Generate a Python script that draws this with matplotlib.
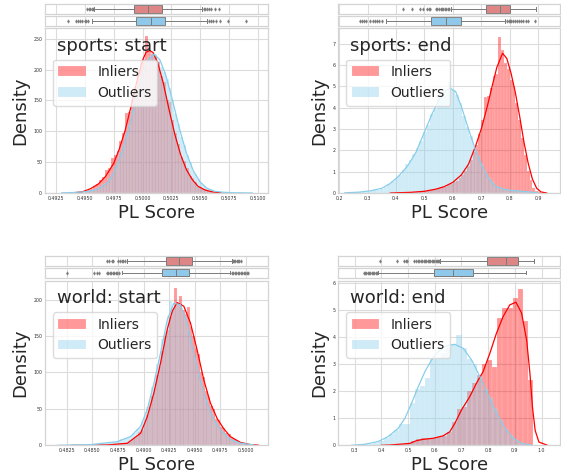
import matplotlib.pyplot as plt
import numpy as np

plt.rcParams['font.family'] = 'DejaVu Sans'

# ---------------- sports: start ----------------
ss_in_bin0, ss_in_binw = 0.4950, 0.00025
ss_in_hist = [3, 5, 7, 12, 14, 21, 26, 38, 40, 56, 62, 68, 85, 98, 130, 132, 150, 172, 200, 212,
              218, 254, 232, 226, 222, 212, 190, 180, 150, 148, 118, 98, 80, 58, 52, 41, 28, 24,
              18, 10, 8, 7, 4, 3, 1]
ss_out_bin0, ss_out_binw = 0.4945, 0.00025
ss_out_hist = [1, 2, 2, 3, 4, 5, 8, 9, 14, 17, 24, 32, 44, 50, 66, 78, 98, 110, 135, 148, 165,
               188, 200, 212, 220, 228, 226, 214, 205, 196, 184, 170, 150, 128, 112, 90, 78, 62,
               50, 36, 30, 22, 16, 11, 8, 5, 4, 3, 2, 1, 1, 1, 0.5, 0.5]
ss_in_kde_x = [0.4940, 0.4948, 0.4955, 0.4962, 0.4968, 0.4975, 0.4980, 0.4985, 0.4990, 0.4995,
               0.5000, 0.5003, 0.5006, 0.5009, 0.5013, 0.5018, 0.5023, 0.5028, 0.5033, 0.5038,
               0.5043, 0.5048, 0.5054, 0.5060, 0.5068]
ss_in_kde_y = [0.3, 2, 7, 15, 27, 48, 72, 102, 140, 180, 215, 228, 231, 228, 212, 178, 135, 95,
               62, 38, 22, 11, 5, 2, 0.3]
ss_out_kde_x = [0.4930, 0.4940, 0.4950, 0.4957, 0.4964, 0.4970, 0.4976, 0.4982, 0.4988, 0.4994,
                0.5000, 0.5005, 0.5010, 0.5015, 0.5020, 0.5026, 0.5032, 0.5038, 0.5044, 0.5050,
                0.5056, 0.5062, 0.5070, 0.5080, 0.5095]
ss_out_kde_y = [0.3, 0.8, 2, 4, 9, 17.5, 36, 65, 104, 150, 192, 216, 225, 216, 192, 150, 104, 65,
                36, 17.5, 7.6, 3, 1.2, 0.4, 0.1]
# whislo, q1, median, q3, whishi
ss_in_box = [0.49582, 0.49928, 0.50050, 0.50171, 0.50512]
ss_in_fliers = [0.49519, 0.49532, 0.49545, 0.49558, 0.49571, 0.50532, 0.50545, 0.50558, 0.50576,
                0.50593, 0.50628, 0.50662]
ss_out_box = [0.49559, 0.49940, 0.50073, 0.50194, 0.50561]
ss_out_fliers = [0.49357, 0.49423, 0.49441, 0.49458, 0.49473, 0.49501, 0.49510, 0.49525, 0.50578,
                 0.50593, 0.50610, 0.50636, 0.50671, 0.50743, 0.50896]

# ---------------- sports: end ----------------
se_in_bin0, se_in_binw = 0.40, 0.01
se_in_hist = [0.03, 0.03, 0.04, 0.05, 0.04, 0.05, 0.06, 0.07, 0.08, 0.08, 0.10, 0.12, 0.14, 0.16,
              0.20, 0.22, 0.27, 0.30, 0.36, 0.42, 0.50, 0.58, 0.70, 0.85, 1.05, 1.25, 1.55, 1.90,
              2.25, 2.75, 3.40, 4.50, 4.55, 4.90, 5.50, 5.60, 7.30, 6.70, 6.10, 5.80, 5.30, 5.00,
              4.20, 3.40, 2.60, 1.80, 1.05, 0.60, 0.25, 0.08, 0.03]
se_out_bin0, se_out_binw = 0.22, 0.0125
se_out_hist = [0.01, 0.02, 0.02, 0.03, 0.04, 0.05, 0.07, 0.10, 0.12, 0.16, 0.20, 0.27, 0.40, 0.55,
               0.68, 0.85, 1.10, 1.35, 1.55, 1.85, 2.10, 2.45, 2.85, 3.20, 3.70, 3.95, 4.45, 4.60,
               4.80, 5.25, 4.85, 4.60, 4.20, 3.60, 3.10, 2.65, 2.20, 1.75, 1.35, 1.00, 0.72, 0.50,
               0.33, 0.22, 0.18, 0.14, 0.13, 0.12, 0.10, 0.08, 0.06, 0.04, 0.02]
se_in_kde_x = [0.38, 0.45, 0.50, 0.54, 0.57, 0.60, 0.63, 0.655, 0.68, 0.70, 0.72, 0.74, 0.755,
               0.775, 0.79, 0.805, 0.82, 0.835, 0.85, 0.865, 0.88, 0.895, 0.91, 0.93]
se_in_kde_y = [0.0, 0.03, 0.08, 0.18, 0.3, 0.5, 0.85, 1.35, 2.2, 3.0, 4.0, 5.1, 5.9, 6.55, 6.3,
               5.6, 4.7, 3.6, 2.4, 1.4, 0.65, 0.22, 0.05, 0.0]
se_out_kde_x = [0.22, 0.27, 0.31, 0.35, 0.38, 0.41, 0.44, 0.47, 0.50, 0.525, 0.55, 0.57, 0.59,
                0.61, 0.63, 0.655, 0.68, 0.70, 0.725, 0.75, 0.78, 0.81, 0.85, 0.90]
se_out_kde_y = [0.01, 0.04, 0.1, 0.22, 0.45, 0.8, 1.25, 1.9, 2.85, 3.65, 4.35, 4.75, 4.92, 4.75,
                4.05, 3.0, 2.0, 1.35, 0.7, 0.32, 0.17, 0.12, 0.07, 0.01]
se_in_box = [0.5926, 0.7171, 0.7675, 0.8024, 0.8933]
se_in_fliers = [0.426, 0.456, 0.486, 0.494, 0.510, 0.515, 0.521, 0.540, 0.546, 0.552, 0.557, 0.562,
                0.567, 0.572, 0.577, 0.582, 0.586]
se_out_box = [0.3653, 0.5227, 0.5774, 0.6276, 0.785]
se_out_fliers = [0.275, 0.282, 0.289, 0.296, 0.310, 0.318, 0.325, 0.333, 0.340, 0.350, 0.790, 0.796,
                 0.800, 0.806, 0.812, 0.818, 0.825, 0.832, 0.840, 0.848, 0.856, 0.866, 0.890]

# ---------------- world: start ----------------
ws_in_bin0, ws_in_binw = 0.4860, 0.00025
ws_in_hist = [0.4, 0.6, 0.8, 1, 1.5, 1.5, 2, 2.5, 3, 3.5, 5, 7, 10, 13, 18, 21, 30, 41, 52, 68, 78,
              97, 108, 130, 150, 158, 176, 186, 216, 195, 205, 186, 180, 190, 162, 150, 134, 125,
              100, 94, 74, 66, 54, 50, 36, 35, 25, 24, 17, 15, 10, 8, 6, 5, 3, 2.5, 1.5, 1]
ws_out_bin0, ws_out_binw = 0.4835, 0.00025
ws_out_hist = [0.6, 0.5, 0.8, 1, 0.8, 1, 1.5, 1.5, 2, 2.5, 3, 3, 4, 4, 5, 5, 6, 8, 9, 10, 12, 14, 17,
               23, 24, 33, 40, 52, 62, 80, 92, 112, 122, 146, 156, 178, 198, 190, 196, 192, 194,
               180, 176, 158, 146, 126, 116, 98, 88, 72, 62, 50, 44, 34, 30, 23, 20, 16, 14, 10, 7,
               6, 5, 3.5, 2.5, 2.5, 2, 1.5, 1, 0.5]
ws_in_kde_x = [0.4830, 0.4855, 0.48646, 0.48841, 0.48971, 0.49036, 0.49101, 0.49166, 0.49231,
               0.4928, 0.49328, 0.49393, 0.49458, 0.49523, 0.49588, 0.49653, 0.49718, 0.49782,
               0.49847, 0.49945, 0.50042, 0.5012]
ws_in_kde_y = [0.0, 0.2, 0.5, 2.8, 16.5, 39, 72, 113, 159, 184, 196, 191, 168, 131, 90, 58, 37, 23,
               12, 4, 1, 0.2]
ws_out_kde_x = [0.48159, 0.48484, 0.48744, 0.48873, 0.48971, 0.49036, 0.49101, 0.49166, 0.49231,
                0.49295, 0.4936, 0.49425, 0.4949, 0.49555, 0.4962, 0.49685, 0.49766, 0.49847,
                0.49945, 0.50075]
ws_out_kde_y = [0, 1, 5, 12, 26, 49, 85, 127, 172, 195, 193, 168, 127, 90, 58, 35, 19, 8, 3, 0.5]
ws_in_box = [0.48836, 0.49216, 0.49346, 0.49476, 0.49866]
ws_in_fliers = [0.4864, 0.48665, 0.4869, 0.48705, 0.48755, 0.4877, 0.48785, 0.488, 0.48815,
                0.49875, 0.49885, 0.49895, 0.4991, 0.4992, 0.49935, 0.49948]
ws_out_box = [0.48787, 0.49183, 0.49314, 0.49447, 0.49844]
ws_out_fliers = [0.48251, 0.4852, 0.48545, 0.48568, 0.4864, 0.48655, 0.4867, 0.48685, 0.487,
                 0.48715, 0.4873, 0.48745, 0.4876, 0.4986, 0.49875, 0.4989, 0.49905, 0.4992,
                 0.49935, 0.4995, 0.49965, 0.4998, 0.49995, 0.5001, 0.50023]

# ---------------- world: end ----------------
we_in_bin0, we_in_binw = 0.3975, 0.019
we_in_hist = [0.01, 0.02, 0.02, 0.04, 0.05, 0.07, 0.15, 0.25, 0.28, 0.28, 0.27, 0.3, 0.35, 0.5,
              0.85, 1.35, 1.4, 2.0, 2.3, 2.6, 3.0, 3.15, 2.9, 4.7, 5.1, 5.1, 5.45, 5.8, 4.6, 2.4]
we_out_bin0, we_out_binw = 0.33, 0.0195
we_out_hist = [0.04, 0.06, 0.1, 0.17, 0.28, 0.4, 0.58, 0.8, 0.8, 1.55, 2.1, 2.2, 2.5, 3.2, 3.25,
               3.4, 3.65, 3.75, 4.1, 3.6, 3.2, 3.0, 2.6, 2.1, 1.75, 1.35, 0.95, 0.6, 0.35, 0.15,
               0.06]
we_in_kde_x = [0.40, 0.431, 0.506, 0.531, 0.556, 0.594, 0.631, 0.656, 0.675, 0.70, 0.731, 0.756,
               0.781, 0.806, 0.831, 0.856, 0.881, 0.904, 0.925, 0.944, 0.956, 0.966, 0.976, 0.99,
               1.02]
we_in_kde_y = [0.0, 0.01, 0.07, 0.17, 0.22, 0.26, 0.35, 0.5, 0.81, 1.31, 1.8, 2.3, 2.73, 3.4,
               4.15, 4.77, 5.2, 5.3, 4.9, 3.9, 2.7, 1.4, 0.55, 0.12, 0.01]
we_out_kde_x = [0.288, 0.338, 0.388, 0.425, 0.463, 0.488, 0.513, 0.538, 0.563, 0.588, 0.613,
                0.644, 0.675, 0.7065, 0.738, 0.769, 0.80, 0.8315, 0.863, 0.894, 0.925, 0.963]
we_out_kde_y = [0, 0.04, 0.14, 0.32, 0.63, 1.0, 1.56, 2.17, 2.73, 3.16, 3.47, 3.69, 3.74, 3.59,
                3.16, 2.54, 1.86, 1.19, 0.63, 0.26, 0.07, 0.01]
we_in_box = [0.6195, 0.7944, 0.8655, 0.9105, 0.9727]
we_in_fliers = [0.395, 0.46, 0.485, 0.491, 0.497, 0.523, 0.53, 0.536, 0.542, 0.548, 0.553, 0.558,
                0.563, 0.568, 0.573, 0.578, 0.583, 0.588, 0.593, 0.598, 0.603, 0.608, 0.613, 0.617]
we_out_box = [0.388, 0.598, 0.669, 0.742, 0.94]
we_out_fliers = [0.333, 0.338, 0.343, 0.348, 0.353, 0.358, 0.363, 0.368, 0.373, 0.378, 0.383]

FIG_W, FIG_H = 561, 476
GRID = '#dcdcdc'
EDGE = '#d4d4d4'
TXT = '#262626'
BOXLINE = '#7a7a7a'


def px_rect(x0, y0, w, h):
    return [x0 / FIG_W, 1 - (y0 + h) / FIG_H, w / FIG_W, h / FIG_H]


def style(ax):
    for s in ax.spines.values():
        s.set_color(EDGE)
        s.set_linewidth(0.9)
    ax.grid(True, color=GRID, linewidth=0.8)
    ax.set_axisbelow(True)
    ax.tick_params(length=0, labelsize=3.4, labelcolor='#333333', pad=2)


def draw_hist(ax, start, width, heights, color):
    edges = start + width * np.arange(len(heights) + 1)
    return ax.bar(edges[:-1], heights, width=width, align='edge', color=color, alpha=0.4,
                  edgecolor='white', linewidth=0.2)


def draw_box(ax, five, fliers, face, xlim, xticks):
    st = [dict(whislo=five[0], q1=five[1], med=five[2], q3=five[3], whishi=five[4], fliers=fliers)]
    ax.bxp(st, positions=[0], widths=0.84, orientation='horizontal', patch_artist=True,
           boxprops=dict(facecolor=face, edgecolor=BOXLINE, linewidth=0.7),
           medianprops=dict(color=BOXLINE, linewidth=0.7),
           whiskerprops=dict(color=BOXLINE, linewidth=0.7),
           capprops=dict(color=BOXLINE, linewidth=0.7), capwidths=0.4,
           flierprops=dict(marker='d', markersize=1.8, markerfacecolor=BOXLINE,
                           markeredgecolor=BOXLINE, markeredgewidth=0.3))
    style(ax)
    ax.grid(False, axis='y')
    ax.set_ylim(-0.55, 0.55)
    ax.set_yticks([])
    ax.set_xlim(*xlim)
    ax.set_xticks(xticks)
    ax.tick_params(labelbottom=False)


panels = [
    dict(title='sports: start', x0=45, y0=28.3, w=223, h=164.7, by=(3.5, 10.5, 16, 9.7),
         xlim=(0.49155, 0.51087), ylim=(0, 267),
         xticks=[0.4925, 0.4950, 0.4975, 0.5000, 0.5025, 0.5050, 0.5075, 0.5100], xfmt='{:.4f}',
         yticks=[0, 50, 100, 150, 200, 250],
         hin=(ss_in_bin0, ss_in_binw, ss_in_hist), hout=(ss_out_bin0, ss_out_binw, ss_out_hist),
         kin=(ss_in_kde_x, ss_in_kde_y), kout=(ss_out_kde_x, ss_out_kde_y),
         bin_=(ss_in_box, ss_in_fliers), bout=(ss_out_box, ss_out_fliers)),
    dict(title='sports: end', x0=338.3, y0=28.3, w=221.7, h=164.7, by=(3.5, 10.5, 16, 9.7),
         xlim=(0.197, 0.977), ylim=(0, 7.72),
         xticks=[0.2, 0.3, 0.4, 0.5, 0.6, 0.7, 0.8, 0.9], xfmt='{:.1f}',
         yticks=[0, 1, 2, 3, 4, 5, 6, 7],
         hin=(se_in_bin0, se_in_binw, se_in_hist), hout=(se_out_bin0, se_out_binw, se_out_hist),
         kin=(se_in_kde_x, se_in_kde_y), kout=(se_out_kde_x, se_out_kde_y),
         bin_=(se_in_box, se_in_fliers), bout=(se_out_box, se_out_fliers)),
    dict(title='world: start', x0=45, y0=280.7, w=223, h=164.6, by=(256, 10, 268, 9.5),
         xlim=(0.48038, 0.50215), ylim=(0, 226),
         xticks=[0.4825, 0.4850, 0.4875, 0.4900, 0.4925, 0.4950, 0.4975, 0.5000], xfmt='{:.4f}',
         yticks=[0, 50, 100, 150, 200],
         hin=(ws_in_bin0, ws_in_binw, ws_in_hist), hout=(ws_out_bin0, ws_out_binw, ws_out_hist),
         kin=(ws_in_kde_x, ws_in_kde_y), kout=(ws_out_kde_x, ws_out_kde_y),
         bin_=(ws_in_box, ws_in_fliers), bout=(ws_out_box, ws_out_fliers)),
    dict(title='world: end', x0=338.3, y0=280.7, w=221.7, h=164.6, by=(256, 10, 268, 9.5),
         xlim=(0.2386, 1.069), ylim=(0, 6.096),
         xticks=[0.3, 0.4, 0.5, 0.6, 0.7, 0.8, 0.9, 1.0], xfmt='{:.1f}',
         yticks=[0, 1, 2, 3, 4, 5, 6],
         hin=(we_in_bin0, we_in_binw, we_in_hist), hout=(we_out_bin0, we_out_binw, we_out_hist),
         kin=(we_in_kde_x, we_in_kde_y), kout=(we_out_kde_x, we_out_kde_y),
         bin_=(we_in_box, we_in_fliers), bout=(we_out_box, we_out_fliers)),
]

fig = plt.figure(figsize=(5.61, 4.76), dpi=100)

for p in panels:
    ax = fig.add_axes(px_rect(p['x0'], p['y0'], p['w'], p['h']))
    style(ax)
    h1 = draw_hist(ax, *p['hin'], 'red')
    ax.plot(*p['kin'], color='red', linewidth=0.9)
    h2 = draw_hist(ax, *p['hout'], 'skyblue')
    ax.plot(*p['kout'], color='skyblue', linewidth=0.9)
    ax.set_xlim(*p['xlim'])
    ax.set_ylim(*p['ylim'])
    ax.set_xticks(p['xticks'])
    ax.set_xticklabels([p['xfmt'].format(v) for v in p['xticks']])
    ax.set_yticks(p['yticks'])
    ax.set_xlabel('PL Score', fontsize=13, color=TXT, labelpad=2)
    ax.set_ylabel('Density', fontsize=13, color=TXT, labelpad=3)
    ax.text(0.055, 0.865, p['title'], transform=ax.transAxes, fontsize=13, color=TXT,
            va='baseline')
    leg = ax.legend([h1, h2], ['Inliers', 'Outliers'], loc='upper left',
                    bbox_to_anchor=(0.035, 0.81), borderaxespad=0, fontsize=10,
                    frameon=True, fancybox=True, framealpha=0.8, edgecolor=EDGE)
    for t in leg.get_texts():
        t.set_color(TXT)

    b1y, b1h, b2y, b2h = p['by']
    axb1 = fig.add_axes(px_rect(p['x0'], b1y, p['w'], b1h))
    draw_box(axb1, *p['bin_'], '#de8585', p['xlim'], p['xticks'])
    axb2 = fig.add_axes(px_rect(p['x0'], b2y, p['w'], b2h))
    draw_box(axb2, *p['bout'], '#8ec8ea', p['xlim'], p['xticks'])

fig.savefig('out.png', dpi=100)
